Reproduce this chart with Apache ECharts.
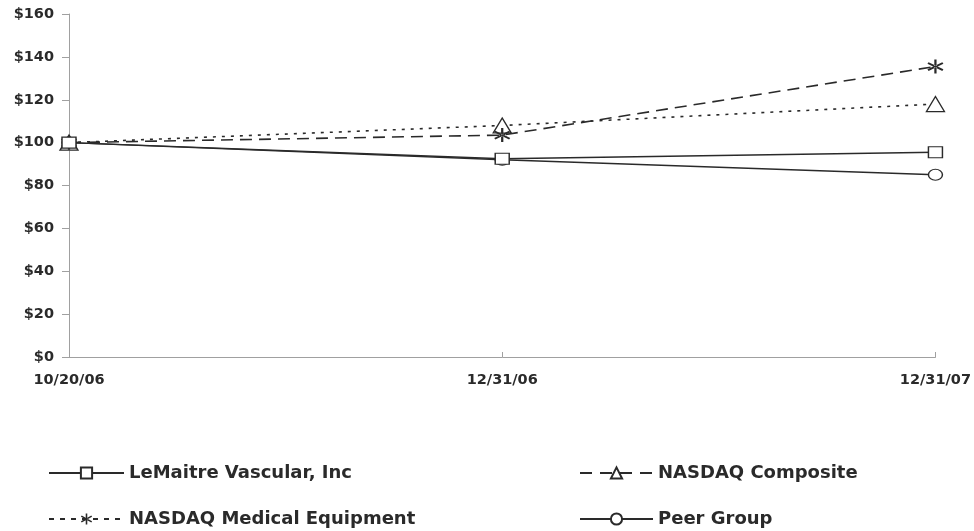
<!DOCTYPE html>
<html>
<head>
<meta charset="utf-8">
<script src="https://cdn.jsdelivr.net/npm/echarts@6/dist/echarts.min.js"></script>
<style>html,body{margin:0;padding:0;background:#fff}#c{width:974px;height:531px}</style>
</head>
<body>
<div id="c"></div>
<script>
const categories = ['10/20/06', '12/31/06', '12/31/07'];
const lemaitre = [100, 92.5, 95.5];
const nasdaqComposite = [100, 108, 118];
const nasdaqMedical = [100, 103.5, 135.5];
const peerGroup = [100, 92, 85];
const yTicks = [0, 20, 40, 60, 80, 100, 120, 140, 160];

const ASTER = 'path://M-1.3,-10L1.3,-10L1.3,10L-1.3,10Z M7.96,6.22L9.26,3.97L-7.96,-6.22L-9.26,-3.97Z M-9.26,3.97L-7.96,6.22L9.26,-3.97L7.96,-6.22Z';
const INK = '#2a2a2a';
const FONT = '"DejaVu Sans", Verdana, sans-serif';

const chart = echarts.init(document.getElementById('c'), null, {renderer: 'canvas'});
chart.setOption({
  animation: false,
  backgroundColor: '#fff',
  grid: {left: 69, right: 38, top: 14, bottom: 174},
  xAxis: {
    type: 'category',
    data: categories,
    boundaryGap: false,
    axisLine: {lineStyle: {color: '#a0a0a0', width: 1}},
    axisTick: {inside: true, length: 5, lineStyle: {color: '#a0a0a0'}},
    axisLabel: {color: '#2a2a2a', fontFamily: FONT, fontWeight: 'bold', fontSize: 14.5, margin: 16}
  },
  yAxis: {
    type: 'value',
    min: yTicks[0], max: yTicks[yTicks.length - 1], interval: 20,
    axisLine: {show: true, lineStyle: {color: '#a0a0a0', width: 1}},
    axisTick: {show: true, length: 7, lineStyle: {color: '#a0a0a0'}},
    splitLine: {show: false},
    axisLabel: {color: '#2a2a2a', fontFamily: FONT, fontWeight: 'bold', fontSize: 14.5, margin: 15,
      formatter: v => '$' + v}
  },
  legend: [
    {
      orient: 'vertical', left: 48, top: 464, padding: 0, itemGap: 28,
      itemWidth: 75, itemHeight: 14,
      textStyle: {color: '#2a2a2a', fontFamily: FONT, fontWeight: 'bold', fontSize: 18},
      data: [
        {name: 'LeMaitre Vascular, Inc'},
        {name: 'NASDAQ Medical Equipment', lineStyle: {type: [5, 6]}}
      ]
    },
    {
      orient: 'vertical', left: 579, top: 464, padding: 0, itemGap: 28,
      itemWidth: 73, itemHeight: 14,
      textStyle: {color: '#2a2a2a', fontFamily: FONT, fontWeight: 'bold', fontSize: 18},
      data: [
        {name: 'NASDAQ Composite', lineStyle: {type: [12, 8]}},
        {name: 'Peer Group'}
      ]
    }
  ],
  series: [
    {
      name: 'LeMaitre Vascular, Inc', type: 'line', data: lemaitre, z: 4,
      symbol: 'rect', symbolSize: [14, 11],
      lineStyle: {color: INK, width: 1.5, type: 'solid'},
      itemStyle: {color: '#fff', borderColor: INK, borderWidth: 1.3}
    },
    {
      name: 'NASDAQ Composite', type: 'line', data: nasdaqComposite, z: 3,
      symbol: 'triangle', symbolSize: [18, 15],
      lineStyle: {color: INK, width: 1.6, type: [3, 6]},
      itemStyle: {color: '#fff', borderColor: INK, borderWidth: 1.3}
    },
    {
      name: 'NASDAQ Medical Equipment', type: 'line', data: nasdaqMedical, z: 3,
      symbol: ASTER, symbolSize: [16, 14],
      lineStyle: {color: INK, width: 1.6, type: [12, 7]},
      itemStyle: {color: INK}
    },
    {
      name: 'Peer Group', type: 'line', data: peerGroup, z: 2,
      symbol: 'circle', symbolSize: [14, 11],
      lineStyle: {color: INK, width: 1.5, type: 'solid'},
      itemStyle: {color: '#fff', borderColor: INK, borderWidth: 1.3}
    }
  ]
});
</script>
</body>
</html>
